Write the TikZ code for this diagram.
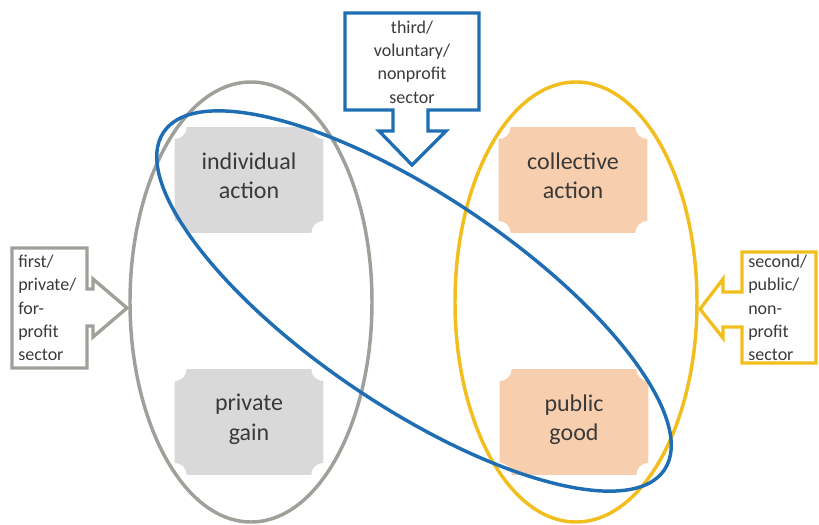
\documentclass[tikz,border=0pt]{standalone}
\usepackage{fontspec}
\setmainfont{Carlito}
\usetikzlibrary{shapes.geometric,positioning,backgrounds}

\definecolor{sectorgray}{HTML}{A0A09A}
\definecolor{sectorgold}{HTML}{F2BE1E}
\definecolor{sectorblue}{HTML}{1F6EB4}
\definecolor{boxgray}{HTML}{D9D9D9}
\definecolor{boxpeach}{HTML}{F8CFAE}
\definecolor{txtgray}{HTML}{3A3A3A}

% box with the four corners scooped out
\newcommand{\plaque}[2]{%
  \fill[#2] ([yshift=-9pt]#1.north west) arc[start angle=-90,end angle=0,radius=9pt]
    -- ([xshift=-9pt]#1.north east) arc[start angle=180,end angle=270,radius=9pt]
    -- ([yshift=9pt]#1.south east) arc[start angle=90,end angle=180,radius=9pt]
    -- ([xshift=9pt]#1.south west) arc[start angle=0,end angle=90,radius=9pt] -- cycle;}

\begin{document}
\begin{tikzpicture}[x=0.75pt,y=-0.75pt,
  every node/.style={text=txtgray},
  plaquenode/.style={minimum width=111pt,minimum height=79pt,inner sep=0pt,
    text depth=7pt,align=center,font=\fontsize{18}{22}\selectfont},
  sectorring/.style={draw,ellipse,line width=2.6pt,inner sep=0pt},
  calloutline/.style={line width=2.5pt,line join=miter},
  callouttext/.style={font=\fontsize{13.5}{17.5}\selectfont,inner sep=0pt}]
  \useasboundingbox (0,0) rectangle (819,525);

  \foreach \nm/\x/\y/\c/\txt in {indiv/249/180/boxgray/{individual\\action},
      privgain/249/422/boxgray/{private\\gain},
      collect/573/180/boxpeach/{collective\\action},
      pubgood/574/422/boxpeach/{public\\good}}{
    \node[plaquenode] (\nm) at (\x,\y) {\txt};
    \begin{pgfonlayer}{background}
      \plaque{\nm}{\c}
    \end{pgfonlayer}
  }

  % the three sectors
  \node[sectorring,draw=sectorgray,minimum width=181.5pt,minimum height=330pt] (privsector) at (251,302) {};
  \node[sectorring,draw=sectorgold,minimum width=181.5pt,minimum height=330pt] (pubsector) at (576,302) {};
  \node[sectorring,draw=sectorblue,rotate=-34,minimum width=453pt,minimum height=158pt] (thirdsector) at (414,301) {};

  % callouts
  \draw[calloutline,sectorgray] (12,248) -- (87,248) -- (87,289) -- (93,289) -- (93,279)
    -- (127,308) -- (93,337) -- (93,326) -- (87,326) -- (87,368) -- (12,368) -- cycle;
  \node[callouttext,align=left,anchor=west] (firsttxt) at (18,308) {first/\\private/\\for-\\profit\\sector};

  \draw[calloutline,sectorblue] (345,13) -- (479,13) -- (479,110) -- (428,110) -- (428,131)
    -- (446,131) -- (412,165) -- (379,131) -- (393,131) -- (393,110) -- (345,110) -- cycle;
  \node[callouttext,align=center] (thirdtxt) at (412,62) {third/\\voluntary/\\nonprofit\\sector};

  \draw[calloutline,sectorgold] (816,252) -- (816,363) -- (742,363) -- (742,327) -- (723,327)
    -- (723,338) -- (700,309) -- (723,279) -- (723,292) -- (742,292) -- (742,252) -- cycle;
  \node[callouttext,align=left,anchor=west] (secondtxt) at (748,308) {second/\\public/\\non-\\profit\\sector};
\end{tikzpicture}
\end{document}
